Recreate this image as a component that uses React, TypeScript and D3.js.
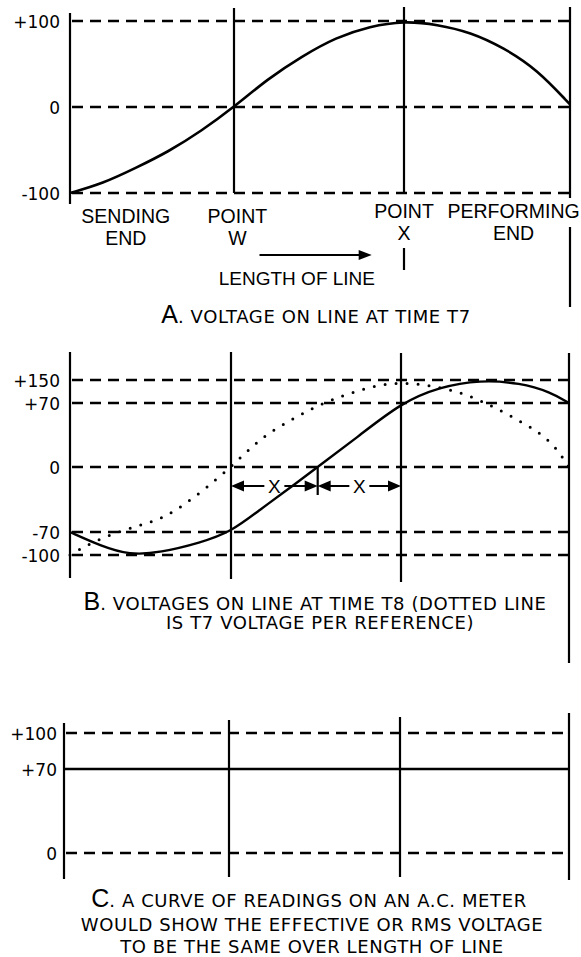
import React, { useEffect, useRef } from 'react';
import * as d3 from 'd3';

const W = 581;
const H = 957;
const SANS = '"Liberation Sans", Arial, Helvetica, sans-serif';
const WIDE = '"DejaVu Sans", Verdana, sans-serif';

// points along the line (quarter wavelengths): sending end, W, X, performing end
const linePoints = [0, 1, 2, 3];

// A. voltage at T7
const aTicks = [100, 0, -100];
const aPos = [0, 0.2, 0.4, 0.6, 0.8, 1, 1.2, 1.4, 1.6, 1.8, 2, 2.2, 2.4, 2.6, 2.8, 3];
const aVolts = [-100, -89, -71, -52, -28, 0, 33, 59, 81, 94, 100, 96, 87, 69, 44, 3];
const aLabels = [['SENDING', 'END'], ['POINT', 'W'], ['POINT', 'X'], ['PERFORMING', 'END']];

// B. voltage at T8 (solid) and T7 (dotted)
const bTicks = [150, 70, 0, -70, -100];
const bT8Pos = [0, 0.19, 0.37, 0.56, 0.81, 1, 1.17, 1.35, 1.51, 1.76, 2, 2.23, 2.47, 2.71, 2.89, 3];
const bT8Volts = [-70, -88, -100, -97, -84, -70, -46, -22, 0, 35, 70, 126, 150, 140, 108, 70];
const bT7Pos = [0, 0.19, 0.45, 0.6, 0.81, 1, 1.12, 1.22, 1.35, 1.49, 1.74, 2, 2.33, 2.53, 2.73, 2.89, 3];
const bT7Volts = [-100, -77, -62, -54, -28, 0, 22, 37, 51, 66, 115, 150, 115, 68, 48, 30, 0];

// C. rms reading
const cTicks = [100, 70, 0];
const cPos = [0, 3];
const cRms = [70, 70];

const captionA = ['A', '.  VOLTAGE ON LINE AT TIME T7'];
const captionB = ['B', '.  VOLTAGES ON LINE AT TIME T8 (DOTTED LINE', 'IS T7 VOLTAGE PER REFERENCE)'];
const captionC = ['C', '.  A CURVE OF READINGS ON AN A.C. METER', 'WOULD SHOW THE EFFECTIVE OR RMS VOLTAGE', 'TO BE THE SAME OVER LENGTH OF LINE'];

type Pt = { pos: number; v: number };
const zip = (p: number[], v: number[]): Pt[] => p.map((d, i) => ({ pos: d, v: v[i] }));

export default function App() {
  const svgRef = useRef<SVGSVGElement | null>(null);

  useEffect(() => {
    if (!svgRef.current) return;
    const svg = d3.select(svgRef.current);
    svg.selectAll('*').remove();
    svg.append('rect').attr('width', W).attr('height', H).attr('fill', '#fff');

    const vline = (x: number, y0: number, y1: number, w = 2.2) =>
      svg.append('line').attr('x1', x).attr('x2', x).attr('y1', y0).attr('y2', y1)
        .attr('stroke', '#000').attr('stroke-width', w);
    const dashed = (x0: number, x1: number, y: number) =>
      svg.append('line').attr('x1', x0).attr('x2', x1).attr('y1', y).attr('y2', y)
        .attr('stroke', '#000').attr('stroke-width', 2.5).attr('stroke-dasharray', '11,7');
    const label = (txt: string, x: number, y: number, size: number, anchor = 'middle', fam = SANS) =>
      svg.append('text').attr('x', x).attr('y', y).attr('text-anchor', anchor)
        .attr('font-family', fam).attr('font-size', size).attr('fill', '#000').text(txt);
    const capLine = (txt: string, x: number, y: number) =>
      label(txt, x, y, 18, 'middle', WIDE).attr('letter-spacing', 0.6);
    const head = (tip: number, y: number, dir: number, len = 12, half = 5) =>
      svg.append('path')
        .attr('d', `M${tip},${y}L${tip - dir * len},${y - half}L${tip - dir * len},${y + half}Z`)
        .attr('fill', '#000');
    const caption = (first: string, rest: string, x: number, y: number) => {
      const t = svg.append('text').attr('x', x).attr('y', y).attr('text-anchor', 'middle')
        .attr('font-family', WIDE).attr('fill', '#000');
      t.append('tspan').attr('font-family', SANS).attr('font-size', 25).text(first);
      t.append('tspan').attr('font-size', 18).attr('letter-spacing', 0.6).text(rest);
    };

    // ---------- A ----------
    const xA = d3.scaleLinear().domain(linePoints).range([70, 234, 404, 570]);
    const yA = d3.scaleLinear().domain([-100, 100]).range([193, 21]);
    aTicks.forEach(t => {
      dashed(xA(0) + 2, xA(3), yA(t));
      label(t > 0 ? `+${t}` : `${t}`, xA(0) - 10, yA(t) + 6.5, 17, 'end', WIDE);
    });
    const aTop = [13, 8, 7, 7];
    const aBot = [204, 193, 193, 198];
    linePoints.forEach((p, i) => vline(xA(p), aTop[i], aBot[i]));

    const lineA = d3.line<Pt>().x(d => xA(d.pos)).y(d => yA(d.v)).curve(d3.curveBasis);
    svg.append('path').datum(zip(aPos, aVolts)).attr('d', lineA)
      .attr('fill', 'none').attr('stroke', '#000').attr('stroke-width', 2.6);

    const labelX = [0.34, 1.02, 2, 2.66];
    const labelY = [223, 223, 218, 218];
    aLabels.forEach((pair, i) => {
      label(pair[0], xA(labelX[i]), labelY[i], 19.5);
      label(pair[1], xA(labelX[i]), labelY[i] + 22, 19.5);
    });
    // length of line arrow
    svg.append('line').attr('x1', xA(1.15)).attr('x2', xA(1.81) - 10).attr('y1', 255).attr('y2', 255)
      .attr('stroke', '#000').attr('stroke-width', 2.2);
    head(xA(1.81), 255, 1, 13, 5);
    label('LENGTH OF LINE', xA(1.37), 285, 19);
    vline(xA(2), 248, 270);
    vline(xA(3), 227, 307);
    caption(captionA[0], captionA[1], 316, 323);

    // ---------- B ----------
    const xB = d3.scaleLinear().domain(linePoints).range([70, 231, 401, 569]);
    const yB = d3.scaleLinear().domain([-100, -70, 0, 70, 150]).range([555, 532, 467, 403, 380]);
    bTicks.forEach(t => {
      dashed(xB(0) + 2, xB(3), yB(t));
      label(t > 0 ? `+${t}` : `${t}`, xB(0) - 10, yB(t) + 6.5, 17, 'end', WIDE);
    });
    const bTop = [352, 352, 353, 353];
    const bBot = [578, 579, 582, 663];
    linePoints.forEach((p, i) => vline(xB(p), bTop[i], bBot[i]));

    const lineB = d3.line<Pt>().x(d => xB(d.pos)).y(d => yB(d.v)).curve(d3.curveBasis);
    svg.append('path').datum(zip(bT7Pos, bT7Volts)).attr('d', lineB)
      .attr('fill', 'none').attr('stroke', '#000').attr('stroke-width', 3)
      .attr('stroke-linecap', 'round').attr('stroke-dasharray', '0,11');
    svg.append('path').datum(zip(bT8Pos, bT8Volts)).attr('d', lineB)
      .attr('fill', 'none').attr('stroke', '#000').attr('stroke-width', 2.4);

    // X dimension arrows
    const mid = 1.51;
    const dimY = 486;
    const spans: [number, number][] = [[1, mid], [mid, 2]];
    spans.forEach(([a, b]) => {
      const x0 = xB(a);
      const x1 = xB(b);
      const cx = (x0 + x1) / 2;
      svg.append('line').attr('x1', x0 + 8).attr('x2', cx - 10).attr('y1', dimY).attr('y2', dimY)
        .attr('stroke', '#000').attr('stroke-width', 2);
      svg.append('line').attr('x1', cx + 10).attr('x2', x1 - 8).attr('y1', dimY).attr('y2', dimY)
        .attr('stroke', '#000').attr('stroke-width', 2);
      head(x0, dimY, -1, 13, 5.5);
      head(x1, dimY, 1, 13, 5.5);
      label('X', cx, dimY + 7, 19);
    });
    vline(xB(mid), yB(0), 495);

    caption(captionB[0], captionB[1], 315, 610);
    capLine(captionB[2], 320, 629);

    // ---------- C ----------
    const xC = d3.scaleLinear().domain(linePoints).range([64, 229, 400, 569]);
    const yC = d3.scaleLinear().domain([0, 100]).range([853, 733]);
    cTicks.forEach(t => {
      if (t !== 70) dashed(xC(0) + 2, xC(3), yC(t));
      label(t > 0 ? `+${t}` : `${t}`, xC(0) - 7, yC(t) + 6.5, 17, 'end', WIDE);
    });
    const cTop = [723, 720, 717, 713];
    const cBot = [879, 877, 877, 880];
    linePoints.forEach((p, i) => vline(xC(p), cTop[i], cBot[i]));
    const lineC = d3.line<Pt>().x(d => xC(d.pos)).y(d => yC(d.v));
    svg.append('path').datum(zip(cPos, cRms)).attr('d', lineC)
      .attr('fill', 'none').attr('stroke', '#000').attr('stroke-width', 2.4);

    caption(captionC[0], captionC[1], 309, 907);
    capLine(captionC[2], 312, 931);
    capLine(captionC[3], 312, 953);
  }, []);

  return (
    <svg ref={svgRef} width={W} height={H}
      style={{ position: 'absolute', left: 0, top: 0, display: 'block' }} />
  );
}
